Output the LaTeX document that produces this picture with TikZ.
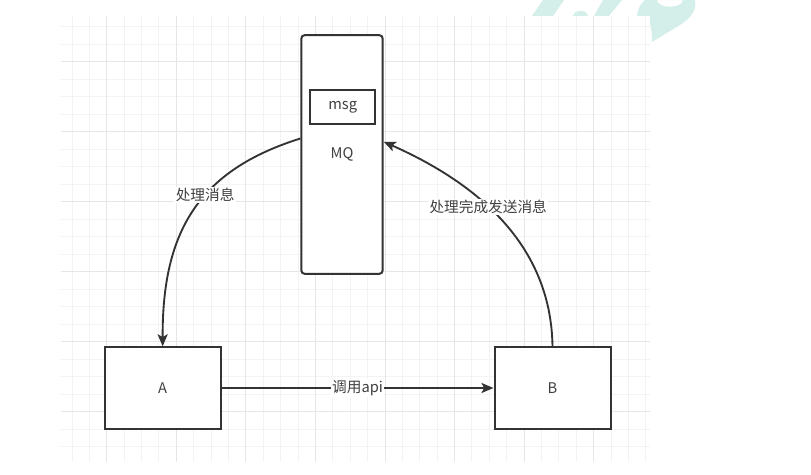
\documentclass[tikz,border=0pt]{standalone}
\usepackage{xcolor}
\usepackage{fontspec}
\setmainfont{Noto Sans CJK SC}
\usepackage{tikz}
\usetikzlibrary{arrows.meta,positioning}

\definecolor{linegray}{HTML}{333333}
\definecolor{textgray}{HTML}{404040}
\definecolor{gridminor}{HTML}{F3F3F3}
\definecolor{gridmajor}{HTML}{E6E6E6}
\definecolor{marklogo}{HTML}{D4EFE9}

\tikzset{
    box/.style={draw=linegray, line width=1.5pt, fill=white, inner sep=0pt,
        text=textgray, font=\fontsize{11}{13}\selectfont},
    link/.style={draw=linegray, line width=1.4pt,
        -{Stealth[length=9pt,width=7.5pt,inset=2pt]}},
    lbl/.style={fill=white, inner sep=1pt, text=textgray,
        font=\fontsize{11}{13}\selectfont}
}

\begin{document}
\begin{tikzpicture}[x=0.75pt, y=-0.75pt]
    \useasboundingbox (0,0) rectangle (811,475);

    % Watermark
    \fill[marklogo] (543,0) -- (564,0) -- (553,16) -- (532,16) -- cycle;
    \fill[marklogo] (573,16) .. controls (574,10) and (586,8) .. (588,16) -- cycle;
    \fill[marklogo] (603,0) -- (622,0) -- (609,16) -- (594,16) -- cycle;
    \fill[marklogo, even odd rule]
        (637,16) .. controls (638,8) and (641,3) .. (645,0) -- (695,0)
        .. controls (697,10) and (691,18) .. (680,25) -- (652,42)
        .. controls (652,34) and (651,24) .. (648,18) -- cycle
        (657,0) .. controls (658,9) and (682,9) .. (683,0) -- cycle;

    % Grid
    \fill[white] (61,16) rectangle (650,462);
    \begin{scope}
        \clip (61,16) rectangle (650,462);
        \foreach \i in {0,...,33}
            \draw[gridminor, line width=0.75pt] ({72+17.39*\i},16) -- ({72+17.39*\i},462);
        \foreach \j in {0,...,24}
            \draw[gridminor, line width=0.75pt] (61,{26.7+17.5*\j}) -- (650,{26.7+17.5*\j});
        \foreach \i in {2,6,...,30}
            \draw[gridmajor, line width=0.75pt] ({72+17.39*\i},16) -- ({72+17.39*\i},462);
        \foreach \j in {2,6,...,22}
            \draw[gridmajor, line width=0.75pt] (61,{26.7+17.5*\j}) -- (650,{26.7+17.5*\j});
    \end{scope}

    % Queue
    \node[box, rounded corners=2.5pt, minimum width=61pt, minimum height=179pt]
        (mq) at (342,154.5) {MQ};
    \node[box, minimum width=48.75pt, minimum height=25.5pt]
        (msg) at (342.7,107.3) {msg};

    % Services
    \node[box, minimum width=87pt, minimum height=61pt] (a) at (162.7,388) {A};
    \node[box, minimum width=87pt, minimum height=61pt] (b) at (552.5,388) {B};

    % Connectors
    \draw[link] (mq.159) .. controls (200,170) and (162,230) .. (a.north)
        node[lbl, pos=0.42] {处理消息};
    \draw[link] (b.north) .. controls (551,240) and (470,180) .. (mq.17)
        node[lbl, pos=0.56] {处理完成发送消息};
    \draw[link] (a) -- (b) node[lbl, midway] {调用api};
\end{tikzpicture}
\end{document}
